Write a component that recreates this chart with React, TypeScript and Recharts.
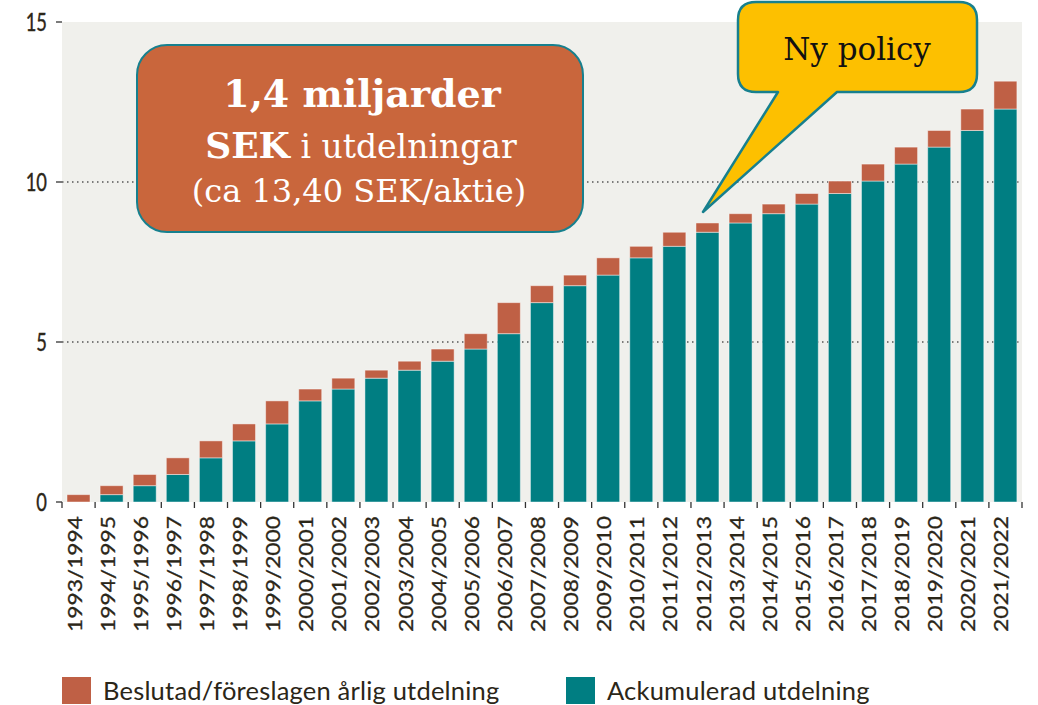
import React from "react";
import { Bar, BarChart, CartesianGrid, Legend, XAxis, YAxis } from "recharts";

// Utdelning per aktie (SEK)
const seasons = [
  "1993/1994", "1994/1995", "1995/1996", "1996/1997", "1997/1998", "1998/1999",
  "1999/2000", "2000/2001", "2001/2002", "2002/2003", "2003/2004", "2004/2005",
  "2005/2006", "2006/2007", "2007/2008", "2008/2009", "2009/2010", "2010/2011",
  "2011/2012", "2012/2013", "2013/2014", "2014/2015", "2015/2016", "2016/2017",
  "2017/2018", "2018/2019", "2019/2020", "2020/2021", "2021/2022",
];
const accumulated = [
  0, 0.23, 0.51, 0.86, 1.38, 1.91, 2.44, 3.16, 3.53, 3.87, 4.12, 4.4, 4.78, 5.26,
  6.23, 6.76, 7.09, 7.63, 7.99, 8.43, 8.72, 9.01, 9.31, 9.64, 10.03, 10.56, 11.09,
  11.61, 12.28,
];
const annual = [
  0.23, 0.28, 0.35, 0.52, 0.53, 0.53, 0.72, 0.37, 0.34, 0.25, 0.28, 0.38, 0.48,
  0.97, 0.53, 0.33, 0.54, 0.36, 0.44, 0.29, 0.29, 0.3, 0.33, 0.39, 0.53, 0.53,
  0.52, 0.67, 0.87,
];
const yTicks = [0, 5, 10, 15];
const gridValues = [5, 10];

const TEAL = "#007e82";
const BROWN = "#bf6045";
const INK = "#2b2618";
const SANS = "Lato, 'Open Sans', sans-serif";
const SERIF = "'DejaVu Serif', 'Liberation Serif', serif";

const rows = seasons.map((season, i) => ({
  season,
  accumulated: accumulated[i],
  annual: annual[i],
}));

function YTick({ x, y, payload }: any) {
  return (
    <text
      transform={`translate(${x},${y + 9}) scale(0.72,1)`}
      textAnchor="end"
      fontFamily={SANS}
      fontSize={25.5}
      fill={INK}
      stroke={INK}
      strokeWidth={0.4}
    >
      {payload.value}
    </text>
  );
}

function XTick({ x, y, payload, index }: any) {
  const half = payload.offset || 16.55;
  const last = index === seasons.length - 1;
  return (
    <g>
      <line x1={x - half} x2={x - half} y1={y} y2={y + 6} stroke="#333" strokeWidth={1.3} />
      {last && <line x1={x + half} x2={x + half} y1={y} y2={y + 6} stroke="#333" strokeWidth={1.3} />}
      <text
        transform={`translate(${x + 3},${y + 14}) rotate(-90) scale(1.2,1)`}
        textAnchor="end"
        fontFamily={SANS}
        fontSize={19}
        fill={INK}
        stroke={INK}
        strokeWidth={0.3}
      >
        {payload.value}
      </text>
    </g>
  );
}

function LegendBox() {
  const item = (color: string, label: string, width: number) => (
    <div style={{ display: "flex", alignItems: "center", width }}>
      <div style={{ width: 29, height: 27, background: color, marginRight: 12 }} />
      <span style={{ fontFamily: SANS, fontSize: 25.5, color: INK, letterSpacing: 0.2 }}>{label}</span>
    </div>
  );
  return (
    <div style={{ display: "flex", height: 40, paddingTop: 10, paddingLeft: 62, boxSizing: "border-box" }}>
      {item(BROWN, "Beslutad/föreslagen årlig utdelning", 504)}
      {item(TEAL, "Ackumulerad utdelning", 400)}
    </div>
  );
}

function Annotations() {
  return (
    <svg
      width={1038}
      height={705}
      style={{ position: "absolute", left: 0, top: 0, pointerEvents: "none" }}
    >
      <rect x={137} y={45} width={446} height={187} rx={30} fill="#c9663c" stroke="#17808e" strokeWidth={2} />
      <text x={362} y={107} textAnchor="middle" fontFamily={SERIF} fontWeight="bold" fontSize={38} fill="#fff">
        1,4 miljarder
      </text>
      <text x={361} y={158} textAnchor="middle" fontFamily={SERIF} fontSize={33} fill="#fff">
        <tspan fontWeight="bold" fontSize={36}>SEK</tspan> i utdelningar
      </text>
      <text x={359} y={202} textAnchor="middle" fontFamily={SERIF} fontSize={32} fill="#fff">
        (ca 13,40 SEK/aktie)
      </text>
      <path
        d="M 756 2 H 959 Q 977 2 977 20 V 74 Q 977 92 959 92 H 837 L 703 212 L 778 92 H 756 Q 738 92 738 74 V 20 Q 738 2 756 2 Z"
        fill="#fdc000"
        stroke="#17808e"
        strokeWidth={2.5}
        strokeLinejoin="round"
      />
      <text x={857} y={60} textAnchor="middle" fontFamily={SERIF} fontSize={31} fill="#111">
        Ny policy
      </text>
    </svg>
  );
}

export default function App() {
  return (
    <div style={{ position: "absolute", left: 0, top: 0, width: 1038, height: 705, background: "#fff" }}>
      <BarChart
        width={1038}
        height={705}
        data={rows}
        margin={{ top: 22, right: 16, left: 0, bottom: 0 }}
        barSize={23}
      >
        <CartesianGrid
          fill="#f0f0ec"
          vertical={false}
          horizontalValues={gridValues}
          stroke="#555"
          strokeDasharray="1.5 3.5"
          strokeWidth={1.3}
        />
        <XAxis
          dataKey="season"
          interval={0}
          height={163}
          axisLine={false}
          tickLine={false}
          tickSize={0}
          tickMargin={0}
          tick={<XTick />}
        />
        <YAxis
          domain={[0, 15]}
          ticks={yTicks}
          width={62}
          axisLine={false}
          tickSize={6}
          tickMargin={9}
          tickLine={{ stroke: "#333", strokeWidth: 1.3 }}
          tick={<YTick />}
        />
        <Legend verticalAlign="bottom" content={<LegendBox />} />
        <Bar dataKey="accumulated" stackId="a" fill={TEAL} stroke="rgba(255,255,255,0.45)" strokeWidth={1} isAnimationActive={false} />
        <Bar dataKey="annual" stackId="a" fill={BROWN} stroke="rgba(255,255,255,0.45)" strokeWidth={1} isAnimationActive={false} />
      </BarChart>
      <Annotations />
    </div>
  );
}
